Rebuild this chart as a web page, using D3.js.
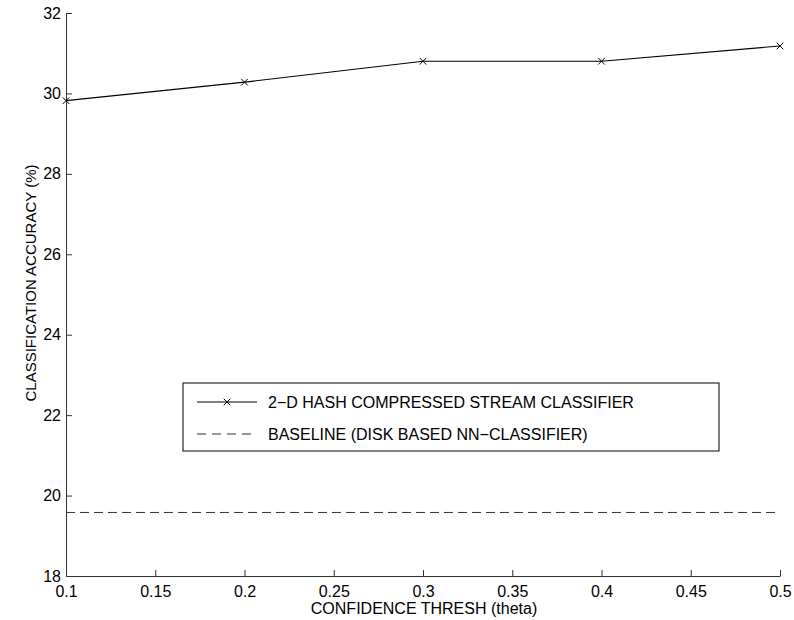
<!DOCTYPE html>
<html>
<head>
<meta charset="utf-8">
<script src="https://cdn.jsdelivr.net/npm/d3@7"></script>
<style>
  body { margin: 0; background: #fff; }
  text { font-family: "Liberation Sans", Arial, sans-serif; }
</style>
</head>
<body>
<div class="line-chart"></div>
<script>
// data
const thresholds = [0.1, 0.2, 0.3, 0.4, 0.5];
const hashAccuracy = [29.82, 30.28, 30.8, 30.8, 31.18];
const baselineAccuracy = 19.58;
const xTicks = [0.1, 0.15, 0.2, 0.25, 0.3, 0.35, 0.4, 0.45, 0.5];
const yTicks = [18, 20, 22, 24, 26, 28, 30, 32];
const legendLabels = ['2\u2212D HASH COMPRESSED STREAM CLASSIFIER', 'BASELINE (DISK BASED NN\u2212CLASSIFIER)'];

const width = 794, height = 620;
const margin = { top: 13, right: 14, bottom: 44, left: 66 };
const innerWidth = width - margin.left - margin.right;
const innerHeight = height - margin.top - margin.bottom;

const svg = d3.select('.line-chart')
  .append('svg')
  .attr('width', width)
  .attr('height', height);

const g = svg.append('g')
  .attr('transform', 'translate(' + margin.left + ',' + margin.top + ')');

const x = d3.scaleLinear().domain([0.1, 0.5]).range([0, innerWidth]);
const y = d3.scaleLinear().domain([18, 32]).range([innerHeight, 0]);

// axes, ticks pointing inward
const xAxis = g.append('g')
  .attr('transform', 'translate(0,' + innerHeight + ')')
  .call(d3.axisBottom(x).tickValues(xTicks).tickSizeInner(-6).tickSizeOuter(0)
    .tickPadding(10).tickFormat(d3.format('')));
const yAxis = g.append('g')
  .call(d3.axisLeft(y).tickValues(yTicks).tickSizeInner(-6).tickSizeOuter(0)
    .tickPadding(5));

[xAxis, yAxis].forEach(a => {
  a.select('.domain').attr('stroke', '#333');
  a.selectAll('.tick line').attr('stroke', '#333');
  a.selectAll('.tick text').attr('fill', '#000').style('font-size', '16px');
});

// axis titles
svg.append('text')
  .attr('x', 424)
  .attr('y', 614)
  .attr('text-anchor', 'middle')
  .style('font-size', '16px')
  .text('CONFIDENCE THRESH (theta)');

svg.append('text')
  .attr('transform', 'translate(36,283) rotate(-90)')
  .attr('text-anchor', 'middle')
  .style('font-size', '15px')
  .text('CLASSIFICATION ACCURACY (%)');

// baseline
g.append('line')
  .attr('x1', x(0.1)).attr('x2', x(0.5))
  .attr('y1', y(baselineAccuracy)).attr('y2', y(baselineAccuracy))
  .attr('stroke', '#333')
  .attr('stroke-dasharray', '9,5');

// hash classifier line
const line = d3.line()
  .x((d, i) => x(thresholds[i]))
  .y(d => y(d));

g.append('path')
  .datum(hashAccuracy)
  .attr('fill', 'none')
  .attr('stroke', '#000')
  .attr('stroke-width', 1.1)
  .attr('d', line);

g.selectAll('.marker')
  .data(hashAccuracy)
  .enter()
  .append('path')
  .attr('class', 'marker')
  .attr('transform', (d, i) => 'translate(' + x(thresholds[i]) + ',' + y(d) + ')')
  .attr('d', d3.symbol().type(d3.symbolX).size(30))
  .attr('fill', 'none')
  .attr('stroke', '#000')
  .attr('stroke-width', 1);

// legend
const legend = svg.append('g').attr('transform', 'translate(183,383)');
legend.append('rect')
  .attr('width', 536).attr('height', 68)
  .attr('fill', '#fff')
  .attr('stroke', '#000');

legend.append('line')
  .attr('x1', 14).attr('x2', 74).attr('y1', 19).attr('y2', 19)
  .attr('stroke', '#000');
legend.append('path')
  .attr('transform', 'translate(44,19)')
  .attr('d', d3.symbol().type(d3.symbolX).size(30))
  .attr('fill', 'none')
  .attr('stroke', '#000');
legend.append('line')
  .attr('x1', 14).attr('x2', 74).attr('y1', 51).attr('y2', 51)
  .attr('stroke', '#333')
  .attr('stroke-dasharray', '9,6');

legend.selectAll('.legend-label')
  .data(legendLabels)
  .enter()
  .append('text')
  .attr('class', 'legend-label')
  .attr('x', 85)
  .attr('y', (d, i) => 25 + i * 32)
  .style('font-size', '16px')
  .text(d => d);
</script>
</body>
</html>
